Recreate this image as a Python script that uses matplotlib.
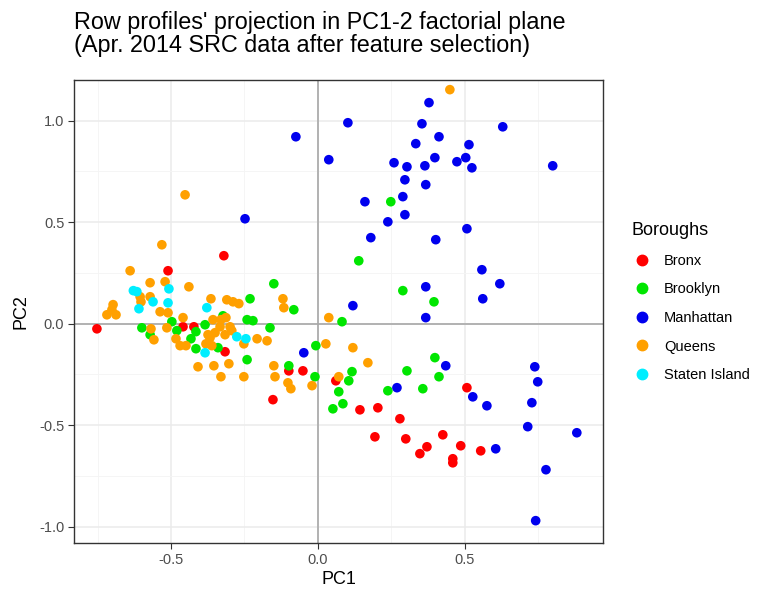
import matplotlib
matplotlib.use("Agg")
from matplotlib import pyplot as plt
from matplotlib.lines import Line2D

plt.rcParams["font.family"] = ["Liberation Sans", "DejaVu Sans"]

# PC1/PC2 coordinates per borough
bronx_x = [-0.320, -0.510, -0.752, -0.459, -0.422, -0.316, -0.099, -0.051, -0.153, 0.061,
           0.143, 0.204, 0.279, 0.194, 0.299, 0.371, 0.347, 0.425, 0.486, 0.459,
           0.459, 0.554, 0.507]
bronx_y = [0.335, 0.261, -0.025, -0.015, -0.015, -0.138, -0.232, -0.232, -0.374, -0.281,
           -0.424, -0.414, -0.468, -0.557, -0.567, -0.606, -0.640, -0.547, -0.601, -0.665,
           -0.685, -0.626, -0.315]

brooklyn_x = [-0.150, -0.231, -0.082, -0.323, -0.241, -0.221, -0.163, -0.599, -0.497, -0.384,
              -0.480, -0.415, -0.571, -0.432, -0.415, -0.340, -0.241, -0.099, -0.007, -0.010,
              0.082, 0.116, 0.105, 0.071, 0.085, 0.051, 0.238, 0.357, 0.303, 0.398,
              0.412, 0.248, 0.139, 0.289, 0.395]
brooklyn_y = [0.197, 0.123, 0.069, 0.039, 0.020, 0.015, -0.020, -0.020, 0.010, -0.005,
              -0.034, -0.039, -0.054, -0.074, -0.123, -0.118, -0.177, -0.207, -0.108, -0.261,
              0.010, -0.236, -0.281, -0.335, -0.394, -0.419, -0.330, -0.320, -0.232, -0.167,
              -0.261, 0.601, 0.310, 0.163, 0.108]

manhattan_x = [0.378, 0.102, 0.354, 0.629, -0.075, 0.412, 0.333, 0.514, 0.037, 0.259,
               0.303, 0.364, 0.398, 0.473, 0.503, 0.524, 0.799, 0.296, 0.367, 0.289,
               0.160, 0.296, 0.238, -0.248, 0.507, 0.180, 0.401, 0.558, 0.619, 0.367,
               0.561, 0.119, 0.367, -0.048, 0.269, 0.435, 0.527, 0.575, 0.605, 0.738,
               0.748, 0.728, 0.714, 0.881, 0.776, 0.741]
manhattan_y = [1.089, 0.990, 0.985, 0.970, 0.921, 0.921, 0.887, 0.882, 0.808, 0.793,
               0.773, 0.778, 0.818, 0.798, 0.818, 0.768, 0.778, 0.709, 0.685, 0.626,
               0.601, 0.537, 0.502, 0.517, 0.468, 0.424, 0.414, 0.266, 0.197, 0.182,
               0.123, 0.089, 0.030, -0.143, -0.315, -0.207, -0.360, -0.404, -0.616, -0.212,
               -0.286, -0.389, -0.507, -0.537, -0.719, -0.970]

queens_x = [0.449, -0.452, -0.531, -0.639, -0.571, -0.520, -0.439, -0.605, -0.571, -0.602,
            -0.697, -0.701, -0.718, -0.687, -0.537, -0.510, -0.459, -0.364, -0.310, -0.289,
            -0.269, -0.119, -0.116, 0.037, -0.357, -0.330, -0.313, -0.333, -0.299, -0.568,
            -0.514, -0.558, -0.483, -0.469, -0.449, -0.381, -0.361, -0.374, -0.350, -0.316,
            -0.293, -0.367, -0.252, -0.207, -0.173, -0.408, -0.354, -0.303, -0.330, -0.252,
            -0.150, -0.146, -0.102, -0.092, -0.020, 0.027, 0.119, 0.170, 0.071]
queens_y = [1.153, 0.635, 0.389, 0.261, 0.202, 0.207, 0.182, 0.133, 0.133, 0.108,
            0.094, 0.069, 0.044, 0.044, 0.059, 0.054, 0.030, 0.123, 0.118, 0.108,
            0.099, 0.123, 0.079, 0.030, 0.020, 0.020, 0.030, -0.015, -0.015, -0.025,
            -0.020, -0.079, -0.074, -0.108, -0.108, -0.099, -0.108, -0.054, -0.044, -0.054,
            -0.034, -0.069, -0.099, -0.074, -0.084, -0.212, -0.207, -0.197, -0.261, -0.261,
            -0.207, -0.261, -0.291, -0.320, -0.305, -0.099, -0.118, -0.192, -0.261]

staten_x = [-0.616, -0.507, -0.561, -0.510, -0.609, -0.378, -0.384, -0.276, -0.245, -0.628]
staten_y = [0.158, 0.172, 0.108, 0.103, 0.074, 0.079, -0.143, -0.064, -0.074, 0.163]

boroughs = ["Bronx", "Brooklyn", "Manhattan", "Queens", "Staten Island"]
colors = ["#ff0000", "#00e600", "#0000ee", "#ffa000", "#00eeff"]
series = [(bronx_x, bronx_y), (brooklyn_x, brooklyn_y), (manhattan_x, manhattan_y),
          (queens_x, queens_y), (staten_x, staten_y)]

fig = plt.figure(figsize=(7.62, 5.89), dpi=100)
ax = fig.add_axes([0.0971, 0.0781, 0.6942, 0.7859])

ax.set_xlim(-0.83, 0.97)
ax.set_ylim(-1.08, 1.20)
ax.set_xticks([-0.5, 0.0, 0.5])
ax.set_yticks([-1.0, -0.5, 0.0, 0.5, 1.0])
ax.set_xticks([-0.75, -0.25, 0.25, 0.75], minor=True)
ax.set_yticks([-0.75, -0.25, 0.25, 0.75], minor=True)
ax.grid(which="major", color="#ebebeb", lw=1.1)
ax.grid(which="minor", color="#f4f4f4", lw=0.6)
ax.set_axisbelow(True)
ax.axhline(0, color="#a8a8a8", lw=1.2, zorder=1)
ax.axvline(0, color="#a8a8a8", lw=1.2, zorder=1)

for (xs, ys), c in zip(series, colors):
    ax.scatter(xs, ys, s=48, color=c, edgecolors="none", zorder=3)

for sp in ax.spines.values():
    sp.set_color("#333333")
    sp.set_linewidth(1.0)
ax.tick_params(which="major", length=4, color="#333333", labelcolor="#4d4d4d",
               labelsize=10.5, pad=3)
ax.tick_params(which="minor", length=0)
ax.set_xticklabels(["-0.5", "0.0", "0.5"])
ax.set_yticklabels(["-1.0", "-0.5", "0.0", "0.5", "1.0"])
ax.set_xlabel("PC1", fontsize=13, labelpad=3)
ax.set_ylabel("PC2", fontsize=13, labelpad=7)

fig.text(0.0971, 0.903, "Row profiles' projection in PC1-2 factorial plane\n"
         "(Apr. 2014 SRC data after feature selection)",
         fontsize=16.8, ha="left", va="bottom", linespacing=0.98)

handles = [Line2D([], [], marker="o", ls="", color=c, markersize=7.5) for c in colors]
leg = fig.legend(handles, boroughs, title="Boroughs", loc="upper left",
                 bbox_to_anchor=(0.812, 0.645), frameon=False, fontsize=10.5,
                 title_fontsize=13, labelspacing=1.0, handletextpad=0.8,
                 handlelength=1.4)
leg._legend_box.align = "left"

fig.savefig("out.png", dpi=100)
